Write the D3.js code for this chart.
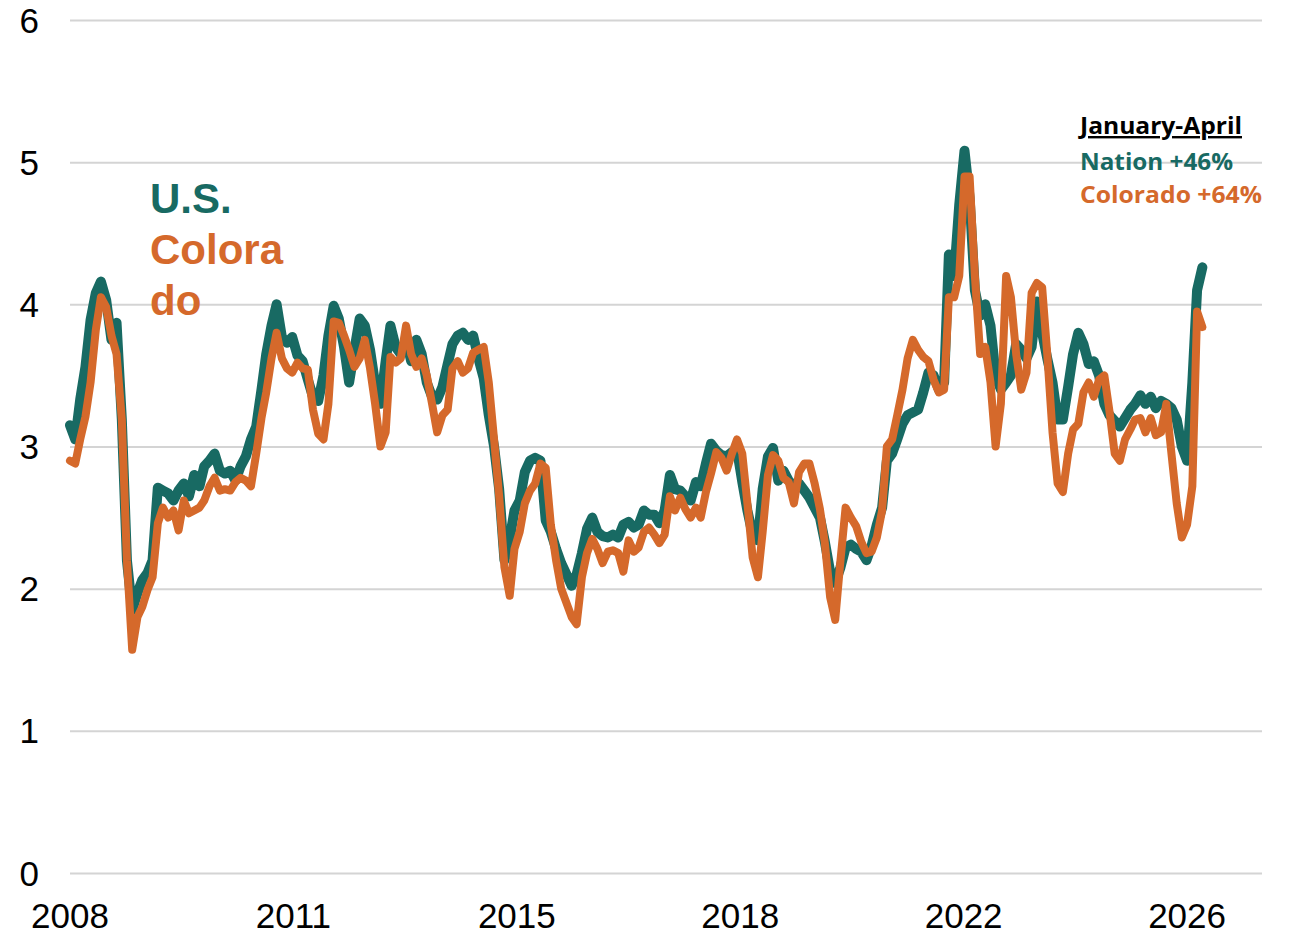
<!DOCTYPE html>
<html>
<head>
<meta charset="utf-8">
<script src="https://cdn.jsdelivr.net/npm/d3@7"></script>
<style>
  html, body { margin: 0; padding: 0; background: #fff; }
  #chart { width: 1291px; height: 936px; }
  .grid line { stroke: #d4d4d4; stroke-width: 2; }
  .grid path { display: none; }
  .tick-label { font-family: "Liberation Sans", Arial, sans-serif; font-size: 35px; fill: #000; }
</style>
</head>
<body>
<div id="chart"></div>
<script>
// monthly readings, Jan 2008 .. Apr 2026
const startMonth = new Date(2008, 0, 1);

const usValues = [
  3.15, 3.05, 3.33, 3.56, 3.89, 4.08, 4.16, 4.03, 3.75, 3.87, 3.19, 2.20,
  1.85, 1.97, 2.06, 2.11, 2.20, 2.71, 2.69, 2.67, 2.62, 2.69, 2.74, 2.65,
  2.80, 2.72, 2.86, 2.90, 2.95, 2.83, 2.81, 2.83, 2.76, 2.86, 2.93, 3.05,
  3.14, 3.40, 3.65, 3.85, 4.00, 3.77, 3.73, 3.77, 3.64, 3.60, 3.47, 3.35,
  3.32, 3.50, 3.78, 3.99, 3.90, 3.70, 3.45, 3.68, 3.90, 3.85, 3.68, 3.44,
  3.30, 3.60, 3.85, 3.70, 3.65, 3.75, 3.60, 3.75, 3.65, 3.45, 3.35, 3.33,
  3.42, 3.58, 3.72, 3.78, 3.80, 3.75, 3.78, 3.62, 3.48, 3.22, 3.00, 2.70,
  2.20, 2.35, 2.55, 2.62, 2.82, 2.90, 2.92, 2.90, 2.48, 2.40, 2.28, 2.18,
  2.10, 2.02, 2.10, 2.25, 2.42, 2.50, 2.40, 2.37, 2.36, 2.38, 2.36, 2.45,
  2.47, 2.43, 2.45, 2.55, 2.52, 2.52, 2.46, 2.55, 2.80, 2.70, 2.69, 2.65,
  2.62, 2.75, 2.72, 2.88, 3.02, 2.97, 2.94, 2.93, 2.96, 2.98, 2.75, 2.55,
  2.38, 2.34, 2.70, 2.93, 2.99, 2.76, 2.83, 2.76, 2.72, 2.74, 2.69, 2.64,
  2.57, 2.50, 2.33, 2.12, 2.04, 2.15, 2.29, 2.31, 2.28, 2.26, 2.20, 2.30,
  2.45, 2.57, 2.90, 2.95, 3.05, 3.16, 3.22, 3.24, 3.26, 3.38, 3.52, 3.50,
  3.40, 3.45, 4.35, 4.20, 4.70, 5.08, 4.75, 4.10, 3.92, 4.00, 3.85, 3.50,
  3.40, 3.45, 3.50, 3.72, 3.68, 3.62, 3.70, 4.02, 3.80, 3.62, 3.45, 3.19,
  3.19, 3.42, 3.65, 3.80, 3.72, 3.58, 3.60, 3.50, 3.30, 3.22, 3.18, 3.14,
  3.20, 3.26, 3.30, 3.36, 3.30, 3.35, 3.27, 3.32, 3.30, 3.27, 3.19, 3.00,
  2.90, 3.45, 4.10, 4.26
];

const coValues = [
  2.90, 2.88, 3.05, 3.21, 3.45, 3.82, 4.05, 3.98, 3.78, 3.65, 3.19, 2.20,
  1.57, 1.80, 1.87, 1.99, 2.08, 2.46, 2.57, 2.50, 2.55, 2.41, 2.62, 2.53,
  2.55, 2.57, 2.62, 2.72, 2.78, 2.69, 2.70, 2.69, 2.75, 2.78, 2.76, 2.72,
  2.95, 3.20, 3.38, 3.62, 3.80, 3.62, 3.55, 3.52, 3.59, 3.55, 3.54, 3.26,
  3.09, 3.05, 3.30, 3.88, 3.87, 3.78, 3.68, 3.56, 3.62, 3.75, 3.55, 3.30,
  3.00, 3.10, 3.63, 3.59, 3.62, 3.85, 3.65, 3.56, 3.62, 3.50, 3.30, 3.10,
  3.22, 3.26, 3.55, 3.60, 3.52, 3.55, 3.66, 3.68, 3.70, 3.45, 3.05, 2.65,
  2.15, 1.95, 2.28, 2.40, 2.60, 2.69, 2.74, 2.88, 2.85, 2.45, 2.20, 2.00,
  1.90, 1.80, 1.75, 2.08, 2.25, 2.35, 2.28, 2.18, 2.26, 2.27, 2.25, 2.12,
  2.34, 2.26, 2.29, 2.40, 2.43, 2.38, 2.32, 2.38, 2.65, 2.55, 2.64, 2.56,
  2.50, 2.57, 2.50, 2.68, 2.81, 2.96, 2.92, 2.83, 2.95, 3.05, 2.95, 2.60,
  2.22, 2.08, 2.40, 2.80, 2.94, 2.90, 2.78, 2.75, 2.60, 2.82, 2.88, 2.88,
  2.74, 2.56, 2.32, 1.94, 1.78, 2.20, 2.57, 2.50, 2.44, 2.33, 2.25, 2.26,
  2.36, 2.55, 3.00, 3.05, 3.22, 3.40, 3.62, 3.75, 3.68, 3.63, 3.60, 3.47,
  3.38, 3.40, 4.05, 4.05, 4.20, 4.90, 4.90, 4.20, 3.65, 3.70, 3.45, 3.00,
  3.30, 4.20, 4.05, 3.65, 3.40, 3.52, 4.08, 4.15, 4.12, 3.65, 3.10, 2.74,
  2.68, 2.95, 3.12, 3.16, 3.38, 3.45, 3.35, 3.47, 3.50, 3.25, 2.95, 2.90,
  3.05, 3.12, 3.19, 3.20, 3.10, 3.20, 3.08, 3.10, 3.30, 2.95, 2.60, 2.36,
  2.45, 2.72, 3.95, 3.84
];

const yTicks = [0, 1, 2, 3, 4, 5, 6];
const xTickDates = [
  new Date(2008, 0, 1), new Date(2011, 7, 8), new Date(2015, 2, 15),
  new Date(2018, 9, 20), new Date(2022, 4, 27), new Date(2026, 0, 1)
];
const xTickLabels = ['2008', '2011', '2015', '2018', '2022', '2026'];

const seriesLabels = ['U.S.', 'Colora', 'do'];
const noteTitle = 'January-April';
const noteLines = ['Nation +46%', 'Colorado +64%'];

const teal = '#186a63';
const orange = '#d5692b';

const margin = { top: 20, right: 29, bottom: 63, left: 70 };
const W = 1291, H = 936;
const width = W - margin.left - margin.right;
const height = H - margin.top - margin.bottom;

const months = d3.range(usValues.length).map(i => new Date(2008, i, 1));

const svg = d3.select('#chart').append('svg')
    .attr('width', W)
    .attr('height', H);

const g = svg.append('g')
    .attr('transform', `translate(${margin.left},${margin.top})`);

const xScale = d3.scaleTime()
    .domain([startMonth, new Date(2027, 2, 18)])
    .range([0, width]);

const yScale = d3.scaleLinear()
    .domain([0, 6])
    .range([height, 0]);

// gridlines
g.append('g')
    .attr('class', 'grid')
    .call(d3.axisLeft(yScale).tickValues(yTicks).tickSize(-width).tickFormat(''));

// y labels
g.selectAll('.y-label')
    .data(yTicks)
    .join('text')
    .attr('class', 'tick-label y-label')
    .attr('x', -31)
    .attr('y', d => yScale(d))
    .attr('dy', '0.36em')
    .attr('text-anchor', 'end')
    .text(d => d);

// x labels
g.selectAll('.x-label')
    .data(xTickDates)
    .join('text')
    .attr('class', 'tick-label x-label')
    .attr('x', d => xScale(d))
    .attr('y', height + 55)
    .attr('text-anchor', 'middle')
    .text((d, i) => xTickLabels[i]);

const line = d3.line()
    .x((d, i) => xScale(months[i]))
    .y(d => yScale(d));

g.append('path')
    .datum(usValues)
    .attr('fill', 'none')
    .attr('stroke', teal)
    .attr('stroke-width', 10)
    .attr('stroke-linejoin', 'round')
    .attr('stroke-linecap', 'round')
    .attr('d', line);

g.append('path')
    .datum(coValues)
    .attr('fill', 'none')
    .attr('stroke', orange)
    .attr('stroke-width', 8)
    .attr('stroke-linejoin', 'round')
    .attr('stroke-linecap', 'round')
    .attr('d', line);

// series labels
const labelColors = [teal, orange, orange];
svg.selectAll('.series-label')
    .data(seriesLabels)
    .join('text')
    .attr('class', 'series-label')
    .attr('x', 150)
    .attr('y', (d, i) => 213 + i * 51)
    .style('font-family', '"Liberation Sans", Arial, sans-serif')
    .style('font-weight', 'bold')
    .style('font-size', '42px')
    .style('fill', (d, i) => labelColors[i])
    .text(d => d);

// note
svg.append('text')
    .attr('x', 1080)
    .attr('y', 134)
    .style('font-family', '"Open Sans", Lato, sans-serif')
    .style('font-weight', 'bold')
    .style('font-size', '24px')
    .style('text-decoration', 'underline')
    .style('fill', '#000')
    .attr('textLength', 162)
    .attr('lengthAdjust', 'spacingAndGlyphs')
    .text(noteTitle);

const noteWidths = [153, 182];
svg.selectAll('.note-line')
    .data(noteLines)
    .join('text')
    .attr('class', 'note-line')
    .attr('x', 1080)
    .attr('y', (d, i) => 170 + i * 33)
    .style('font-family', '"Open Sans", Lato, sans-serif')
    .style('font-weight', 'bold')
    .style('font-size', '24px')
    .style('fill', (d, i) => i === 0 ? teal : orange)
    .attr('textLength', (d, i) => noteWidths[i])
    .attr('lengthAdjust', 'spacingAndGlyphs')
    .text(d => d);
</script>
</body>
</html>
